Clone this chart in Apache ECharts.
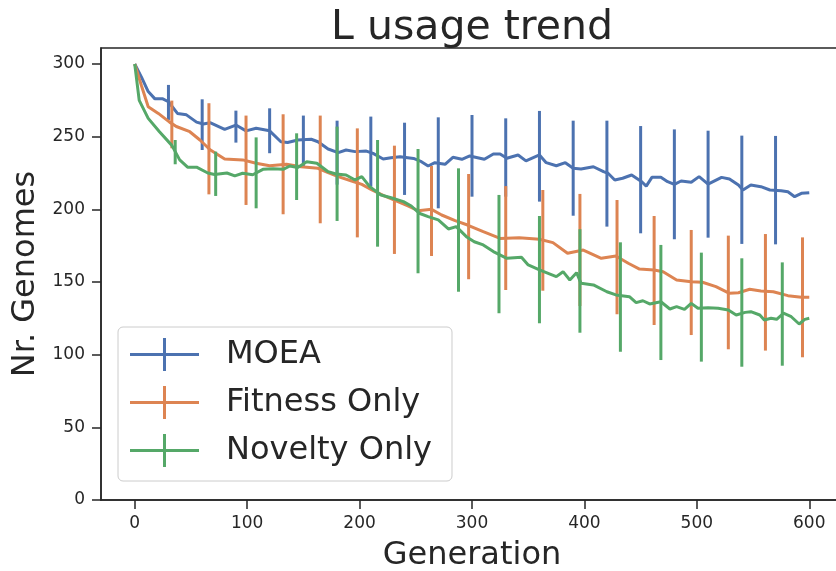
<!DOCTYPE html>
<html>
<head>
<meta charset="utf-8">
<script src="https://cdn.jsdelivr.net/npm/echarts@6/dist/echarts.min.js"></script>
<style>
html,body{margin:0;padding:0;background:#fff;}
#chart{width:836px;height:571px;}
</style>
</head>
<body>
<div id="chart"></div>
<script>
// ---- data ----
const seriesNames = ['MOEA', 'Fitness Only', 'Novelty Only'];
const xTicks = [0, 100, 200, 300, 400, 500, 600];
const yTicks = [0, 50, 100, 150, 200, 250, 300];

const moeaGen = [0,6,12,18,25,30,38,46,55,61,67,80,90,99,108,120,130,136,145,157,163,172,181,188,196,206,212,221,228,236,248,255,261,267,276,283,291,298,311,319,325,331,341,348,360,366,375,383,390,397,408,417,421,427,434,442,451,455,460,468,474,480,486,495,502,510,522,529,537,541,548,557,565,575,581,587,593,600];
const moeaVal = [300,291,281,276,276,274,266,265,260,258.7,259.6,255,258,254,255.8,254,246.5,246,247.7,248.2,246.5,241.5,239,240.8,239.7,240.1,238.5,234.6,235.5,236.2,235,232.8,229.8,232.1,231,235.8,234.4,236.7,234.4,238.1,238.1,235.1,237.4,233.3,237.4,232.1,230,232.1,228.2,227.8,229.3,225.9,224.8,220.2,221.4,223.6,219,216,222,222,219,217.2,219.5,218.6,222.5,217.4,222,220.9,216.7,213.3,216.7,215.6,213.3,212.8,212.1,208.7,211,211.4];

const fitGen = [0,6,12,21,31,37,49,58,67,80,96,108,120,135,148,163,172,181,193,202,211,222,231,243,252,264,273,285,296,310,325,342,360,372,385,399,415,428,439,449,462,470,482,495,505,517,529,537,547,557,568,581,593,600];
const fitVal = [300,285,270.6,266,260,257,253.4,247.7,241,234.6,234,231.7,230,231,229.3,228.2,225.2,222.5,219.5,217.2,213.3,209.2,206.4,202.3,199.1,200,196.1,192.2,189.2,184.6,180,180.5,179.4,177.1,169.8,172,166.3,167.9,162.9,158.9,158.3,157.1,151.4,150.2,149.8,146.8,142.2,142.6,145,143.8,143.3,140.6,139.5,139.5];

const novGen = [0,4,12,22,33,40,47,55,65,71,82,89,96,105,114,123,132,138,145,153,162,172,179,188,196,202,209,219,228,239,246,253,261,270,279,286,295,302,310,319,331,344,350,360,375,381,387,393,397,408,420,428,440,446,452,458,468,476,482,489,495,501,510,519,528,535,543,548,556,560,566,571,577,584,591,596,600];
const novVal = [300,275,262.6,253.4,244,234,229,229,225,224,225,223,224.8,223.8,227.5,228,227.5,229.8,228.7,232.8,231.7,225.9,224.3,223.6,220.2,222.5,215.6,209.9,208,205.3,202.3,197.3,195,192.7,186.5,188.1,181.2,177.7,175.5,170.9,166.3,167,161.7,158.3,153.7,157.1,151.4,156.4,149.1,148,143.3,141.1,139.9,135.8,137.1,134.9,136.4,131.4,133,131.2,135.3,131.9,132.3,131.9,130.7,127.3,129.1,129.6,127.3,123.9,125,124.3,128.5,126.1,121.1,124.3,125];

// error bars: generation, low, high
const moeaErrGen  = [30,60,90,120,150,180,210,240,270,300,330,360,390,420,450,480,510,540,570];
const moeaErrLow  = [261.5,240.8,245.9,238.6,229.3,217,215.6,209.9,200.7,208.7,208.7,205.3,195.6,188.1,183.5,179.4,180.5,176.2,175.9];
const moeaErrHigh = [285.6,275.7,267.9,269.5,264.5,261,263.8,259.6,263.3,264.9,262.6,267.7,261,261,257.3,255,254.1,250.7,250.5];

const fitErrGen  = [33,66,99,132,165,198,231,264,297,330,363,396,429,462,495,528,561,594];
const fitErrLow  = [242,210.3,203,196.6,190.4,180.7,169.3,167.9,151.9,144.5,144,133.5,127.8,120.4,113.5,103.7,102.8,98.2];
const fitErrHigh = [274.8,273,264.5,265.4,264.5,255.7,243.8,229.8,224.3,216,213.3,210.6,206.4,195.4,185.8,181.9,183,180.7];

const novErrGen  = [36,72,108,144,180,216,252,288,324,360,396,432,468,504,540,576];
const novErrLow  = [231,209.2,200.7,206.4,192,174.3,156,143.3,128.5,121.6,115.1,102,96.3,95.2,91.7,92.4];
const novErrHigh = [247.7,239.7,249.5,252.3,256.9,247.7,241.5,228.2,209.9,195.4,186.3,177.3,175.5,170.2,166.3,163.5];

// ---- build ----
const colors = ['#4C72B0', '#DD8452', '#55A868'];
const textColor = '#262626';
const font = 'DejaVu Sans';

function zip2(a, b) { return a.map((v, i) => [v, b[i]]); }
function zip3(a, b, c) { return a.map((v, i) => [v, b[i], c[i]]); }

const lines = [zip2(moeaGen, moeaVal), zip2(fitGen, fitVal), zip2(novGen, novVal)];
const errs = [zip3(moeaErrGen, moeaErrLow, moeaErrHigh), zip3(fitErrGen, fitErrLow, fitErrHigh), zip3(novErrGen, novErrLow, novErrHigh)];

function makeErr(color) {
  return function (params, api) {
    const x = api.value(0), lo = api.value(1), hi = api.value(2);
    const p1 = api.coord([x, lo]);
    const p2 = api.coord([x, hi]);
    return {
      type: 'line',
      shape: { x1: p1[0], y1: p1[1], x2: p2[0], y2: p2[1] },
      style: { stroke: color, lineWidth: 3 }
    };
  };
}

const series = [];
seriesNames.forEach((name, i) => {
  series.push({
    name: name,
    type: 'line',
    data: lines[i],
    showSymbol: false,
    symbol: 'none',
    smooth: false,
    lineStyle: { color: colors[i], width: 3 },
    itemStyle: { color: colors[i] },
    animation: false,
    z: 2 + i * 2
  });
  series.push({
    name: name + ' err',
    type: 'custom',
    data: errs[i],
    encode: { x: 0, y: [1, 2] },
    renderItem: makeErr(colors[i]),
    animation: false,
    z: 3 + i * 2
  });
});

const crossIcon = 'path://M0,15h69v3H0z M33,0h3v33h-3z';

const chart = echarts.init(document.getElementById('chart'), null, { renderer: 'canvas' });
chart.setOption({
  backgroundColor: '#ffffff',
  animation: false,
  title: {
    text: 'L usage trend',
    left: 467,
    textAlign: 'center',
    top: 3,
    textStyle: { fontFamily: font, fontSize: 41, fontWeight: 'normal', color: textColor }
  },
  grid: {
    left: 101, top: 48, width: 742, height: 452,
    containLabel: false,
    outerBoundsMode: 'none',
    show: true, borderColor: textColor, borderWidth: 1.5, backgroundColor: 'transparent'
  },
  legend: {
    orient: 'vertical',
    left: 118,
    top: 327,
    padding: [11, 20, 14, 12],
    itemWidth: 69,
    itemHeight: 33,
    itemGap: 15,
    backgroundColor: 'rgba(255,255,255,0.8)',
    borderColor: '#cccccc',
    borderWidth: 1,
    borderRadius: 5,
    textStyle: { fontFamily: font, fontSize: 32, color: textColor, padding: [0, 0, 0, 22] },
    data: seriesNames.map(n => ({ name: n, icon: crossIcon }))
  },
  xAxis: {
    type: 'value',
    min: -30,
    max: 630,
    name: 'Generation',
    nameLocation: 'middle',
    nameGap: 40,
    nameTextStyle: { fontFamily: font, fontSize: 32, color: textColor },
    axisLine: { show: true, onZero: false, lineStyle: { color: textColor, width: 1.5 } },
    axisTick: { show: true, inside: false, length: 9, lineStyle: { color: textColor, width: 1.5 }, customValues: xTicks },
    axisLabel: { fontFamily: font, fontSize: 17, color: textColor, margin: 15, customValues: xTicks },
    splitLine: { show: false }
  },
  yAxis: {
    type: 'value',
    min: 0,
    max: 311,
    name: 'Nr. Genomes',
    nameLocation: 'middle',
    nameGap: 58,
    nameTextStyle: { fontFamily: font, fontSize: 32, color: textColor },
    axisLine: { show: true, onZero: false, lineStyle: { color: textColor, width: 1.5 } },
    axisTick: { show: true, inside: false, length: 9, lineStyle: { color: textColor, width: 1.5 }, customValues: yTicks },
    axisLabel: { fontFamily: font, fontSize: 17, color: textColor, margin: 16, customValues: yTicks },
    splitLine: { show: false }
  },
  series: series
});
</script>
</body>
</html>
